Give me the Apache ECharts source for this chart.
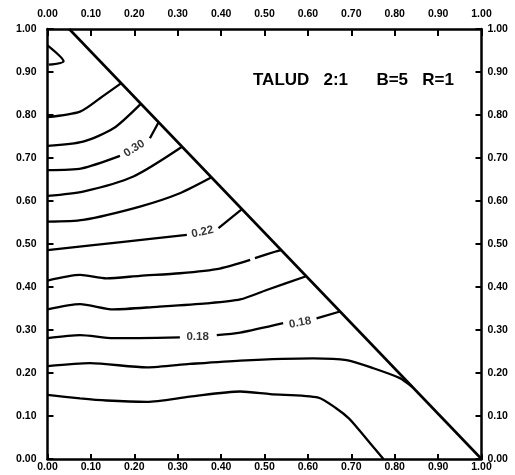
<!DOCTYPE html>
<html><head><meta charset="utf-8">
<script src="https://cdn.jsdelivr.net/npm/echarts@6/dist/echarts.min.js"></script>
<style>html,body{margin:0;padding:0;background:#fff}#c{width:515px;height:475px}</style>
</head><body><div id="c"></div>
<script>
// ---- data ----
const tickLabels = ['0.00','0.10','0.20','0.30','0.40','0.50','0.60','0.70','0.80','0.90','1.00'];
const slopeLine = [[0.05,1.0],[1.0,0.0]];
const contour0 = [[[0,0.962],[0.037,0.925],[0.003,0.917]]];
const contour1 = [[[0,0.795],[0.075,0.808],[0.121,0.839],[0.170,0.874]]];
const contour2 = [[[0,0.728],[0.082,0.738],[0.152,0.769],[0.215,0.826]]];
const contour3 = [[[0,0.672],[0.079,0.676],[0.167,0.705]],[[0.236,0.746],[0.256,0.783]]];
const contour4 = [[[0,0.612],[0.082,0.622],[0.198,0.657],[0.31,0.726]]];
const contour5 = [[[0,0.552],[0.082,0.556],[0.213,0.587],[0.305,0.618],[0.378,0.655]]];
const contour6 = [[[0,0.486],[0.175,0.505],[0.321,0.521]],[[0.394,0.537],[0.448,0.581]]];
const contour7 = [[[0,0.415],[0.075,0.428],[0.136,0.420],[0.213,0.426],[0.305,0.432],[0.397,0.443],[0.467,0.463]],[[0.478,0.467],[0.524,0.482],[0.538,0.486]]];
const contour8 = [[[0,0.348],[0.075,0.360],[0.152,0.348],[0.252,0.354],[0.367,0.362],[0.444,0.371],[0.505,0.393],[0.596,0.425]]];
const contour9 = [[[0,0.281],[0.075,0.288],[0.152,0.281],[0.305,0.283]],[[0.390,0.288],[0.444,0.294],[0.543,0.316]],[[0.620,0.327],[0.674,0.343]]];
const contour10 = [[[0,0.216],[0.098,0.223],[0.229,0.213],[0.328,0.221],[0.444,0.229],[0.612,0.234],[0.689,0.230],[0.751,0.211],[0.812,0.188],[0.840,0.168]]];
const contour11 = [[[0,0.149],[0.075,0.141],[0.136,0.136],[0.229,0.133],[0.328,0.145],[0.444,0.157],[0.513,0.151],[0.624,0.143],[0.665,0.118],[0.695,0.094],[0.72,0.065],[0.774,0]]];
const contours = [contour0,contour1,contour2,contour3,contour4,contour5,contour6,contour7,contour8,contour9,contour10,contour11];
const labelTexts = ['0.30','0.22','0.18','0.18'];
const labelPoints = [[0.200,0.722],[0.357,0.528],[0.346,0.284],[0.582,0.317]];
const labelAngles = [32,12,0,11];
const titleText = 'TALUD   2:1      B=5   R=1';

// ---- chart ----
const chart = echarts.init(document.getElementById('c'), null, {renderer:'canvas'});
const FONT = '"Liberation Sans", Arial, sans-serif';
function axisCommon(pos, margin, tickLen){
  return {
    type:'value', min:0, max:1, interval:0.1, position:pos,
    axisLine:{show:true, onZero:false, lineStyle:{color:'#000', width:2.5}},
    axisTick:{show:true, inside:true, length:tickLen, lineStyle:{color:'#000', width:2}},
    axisLabel:{show:true, margin:margin, color:'#000', fontSize:10.5, fontWeight:'bold', fontFamily:FONT,
      formatter:(v)=>tickLabels[Math.round(v*10)]},
    splitLine:{show:false}
  };
}
const series = [];
contours.forEach((c)=>{
  c.forEach((seg)=>{
    series.push({type:'line', data:seg, showSymbol:false, smooth:0.25, silent:true,
      lineStyle:{color:'#000', width:2.3}, xAxisIndex:0, yAxisIndex:0, z:3});
  });
});
series.push({type:'line', data:slopeLine, showSymbol:false, silent:true,
  lineStyle:{color:'#000', width:2.6}, xAxisIndex:0, yAxisIndex:0, z:4});
series.push({type:'scatter', symbolSize:0, silent:true, xAxisIndex:0, yAxisIndex:0, z:5,
  data: labelPoints.map((p,i)=>({value:p, name:labelTexts[i],
    label:{show:true, position:'inside', formatter:labelTexts[i], rotate:labelAngles[i],
      color:'#000', fontSize:11.5, fontWeight:'bold', fontFamily:FONT}}))});

chart.setOption({
  animation:false,
  backgroundColor:'#fff',
  grid:{left:47.5, right:33.5, top:29, bottom:16, containLabel:false},
  xAxis:[axisCommon('bottom',3,5), axisCommon('top',9,7)],
  yAxis:[axisCommon('left',11,6), axisCommon('right',6,6)],
  graphic:[{type:'text', left:253, top:72, style:{text:titleText, fill:'#000',
    font:'bold 17px "Liberation Sans", Arial, sans-serif'}}],
  series:series
});
</script></body></html>
